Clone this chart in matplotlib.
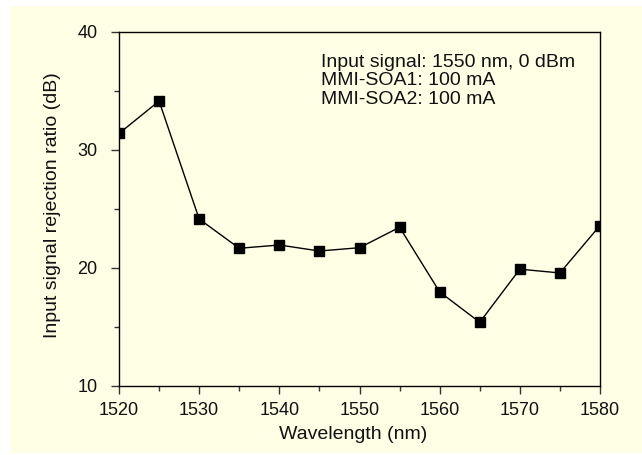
import matplotlib
matplotlib.use("Agg")
import matplotlib.pyplot as plt
from matplotlib.patches import Rectangle
from matplotlib.ticker import MultipleLocator

wavelength = [1520, 1525, 1530, 1535, 1540, 1545, 1550, 1555, 1560, 1565, 1570, 1575, 1580]
rejection = [31.4, 34.15, 24.15, 21.67, 21.95, 21.44, 21.72, 23.45, 17.97, 15.4, 19.9, 19.58, 23.6]
annotation_lines = ["Input signal: 1550 nm, 0 dBm", "MMI-SOA1: 100 mA", "MMI-SOA2: 100 mA"]
xlabel = "Wavelength (nm)"
ylabel = "Input signal rejection ratio (dB)"

bg = "#FFFFE6"
plt.rcParams['font.family'] = ['Liberation Sans', 'DejaVu Sans']

fig = plt.figure(figsize=(6.42, 4.55), dpi=100, facecolor="white")
fig.patches.append(Rectangle((10 / 642, 1 - 453 / 455), 1 - 10 / 642, 447 / 455,
                             transform=fig.transFigure, facecolor=bg, edgecolor="none", zorder=-10))

ax = fig.add_axes([119 / 642, 1 - 386 / 455, 481 / 642, 354 / 455])
ax.set_zorder(5)
ax.set_facecolor(bg)

ax.plot(wavelength, rejection, color="black", lw=1.0, marker="s", ms=7,
        markerfacecolor="black", markeredgecolor="black")

ax.set_xlim(1520, 1580)
ax.set_ylim(10, 40)
ax.xaxis.set_major_locator(MultipleLocator(10))
ax.xaxis.set_minor_locator(MultipleLocator(5))
ax.yaxis.set_major_locator(MultipleLocator(10))
ax.yaxis.set_minor_locator(MultipleLocator(5))

for s in ax.spines.values():
    s.set_linewidth(1.0)
    s.set_color("black")

ax.tick_params(which="major", direction="out", length=5.5, width=1.0, labelsize=13, color="#333333",
               labelcolor="#111111")
ax.tick_params(which="minor", direction="out", length=3.6, width=1.0, color="#333333")
ax.tick_params(axis="x", which="major", pad=6)
ax.tick_params(axis="y", which="major", pad=10)
ax.tick_params(top=False, right=False, which="both")

ax.set_xlabel(xlabel, fontsize=14, color="#111111")
ax.set_ylabel(ylabel, fontsize=14, color="#111111")
ax.xaxis.set_label_coords(0.487, -0.112)
ax.yaxis.set_label_coords(-0.12, 0.51)

ys = [0.902, 0.849, 0.797]
for line, y in zip(annotation_lines, ys):
    ax.text(0.42, y, line, transform=ax.transAxes, fontsize=14, va="baseline", ha="left", color="#111111")

fig.savefig("out.png", dpi=100, facecolor="white")
